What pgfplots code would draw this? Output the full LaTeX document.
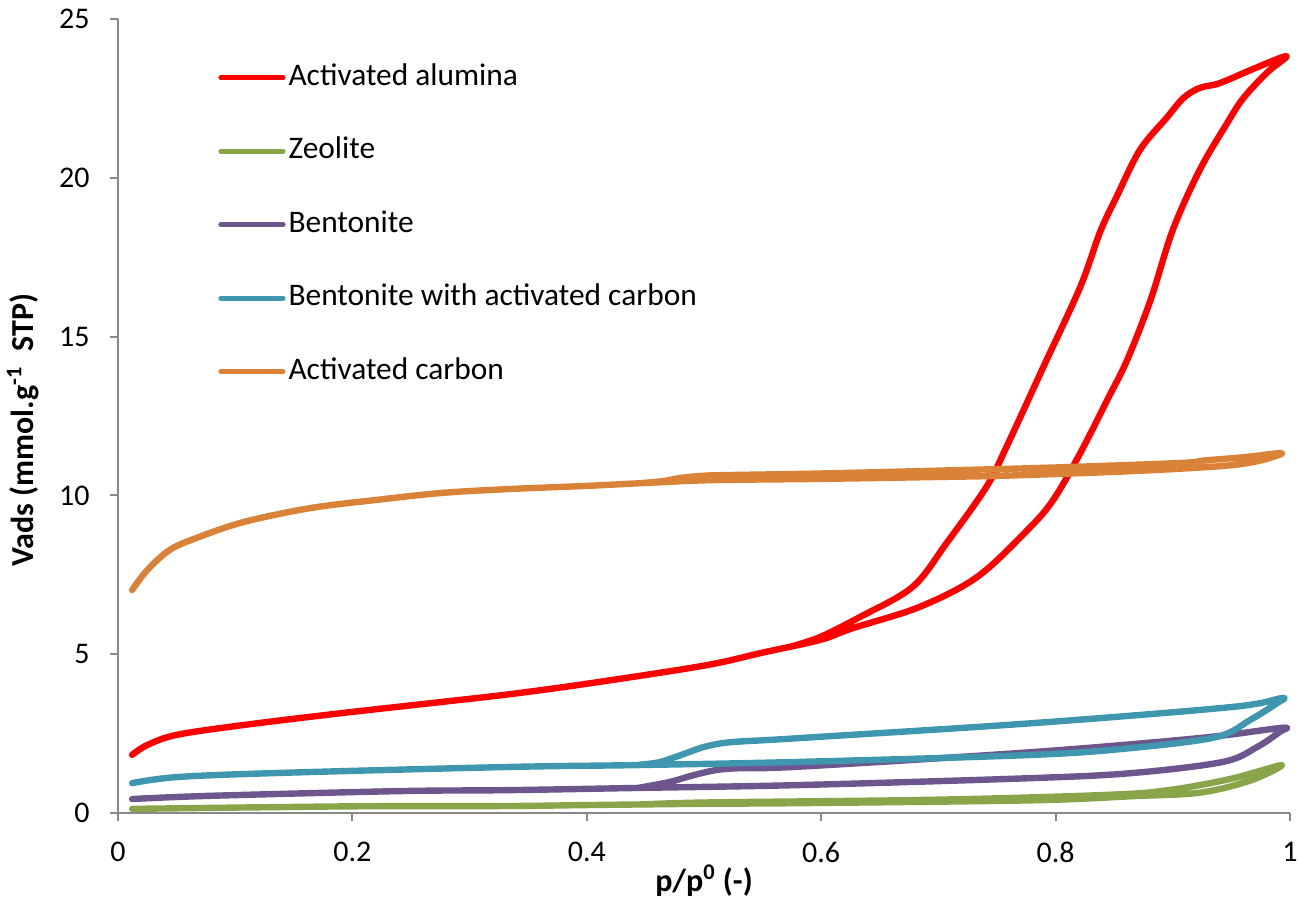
\documentclass[border=0pt]{standalone}
\usepackage{fontspec}
\setmainfont{Carlito}
\usepackage{pgfplots}
\pgfplotsset{compat=1.18}
\definecolor{alured}{HTML}{FF0000}
\definecolor{zeogreen}{HTML}{88A54A}
\definecolor{bentpurple}{HTML}{6E558E}
\definecolor{bacteal}{HTML}{3E97AF}
\definecolor{acorange}{HTML}{DB8239}
\definecolor{axgray}{HTML}{888888}

\begin{document}
\begin{tikzpicture}
\begin{axis}[
  scale only axis, width=586bp, height=397bp,
  xmin=0, xmax=1, ymin=0, ymax=25,
  axis x line*=bottom, axis y line*=left,
  axis line style={draw=axgray, line width=1bp, -},
  tick style={draw=axgray, line width=1bp},
  tick align=outside, major tick length=4bp,
  xtick={0,0.2,0.4,0.6,0.8,1}, ytick={0,5,10,15,20,25},
  xticklabels={0,0.2,0.4,0.6,0.8,1},
  /pgf/number format/assume math mode=true,
  tick label style={font=\fontsize{15bp}{18bp}\selectfont, inner sep=0pt},
  xticklabel style={yshift=-10.5bp},
  yticklabel style={xshift=-10bp},
  xlabel={\textbf{p/p\textsuperscript{0} (-)}},
  ylabel={\textbf{Vads (mmol.g\textsuperscript{-1}\ \ STP)}},
  label style={font=\fontsize{16bp}{19bp}\selectfont, inner sep=0pt},
  xlabel style={at={(axis description cs:0.5,0)}, anchor=north, yshift=-25.5bp},
  ylabel style={at={(axis description cs:-0.081,0.482)}, anchor=center},
  every axis plot/.append style={line width=3.2bp, line join=round, line cap=round, smooth, tension=0.55},
  legend image code/.code={\draw[#1, line width=2.6bp] (0bp,0bp) -- (31bp,0bp);},
  legend cell align=left,
  legend style={at={(0.0853,0.946)}, anchor=north west, draw=none, fill=none,
    inner sep=0pt, row sep=21.35bp, font=\fontsize{15.7bp}{19bp}\selectfont,
    nodes={inner sep=0pt, text height=11.4bp, text depth=4bp},
    /tikz/every odd column/.append style={column sep=1.5bp}},
]
\coordinate (sw) at (rel axis cs:0,0);
\coordinate (ne) at (rel axis cs:1,1);

% activated alumina: adsorption then desorption
\addplot[alured] coordinates {
(0.012,1.83)(0.025,2.14)(0.05,2.46)(0.107,2.77)(0.192,3.15)(0.277,3.50)(0.334,3.74)
(0.4,4.07)(0.5,4.64)(0.55,5.05)(0.599,5.45)(0.627,5.82)(0.684,6.49)(0.733,7.43)
(0.776,8.91)(0.798,9.86)(0.821,11.33)(0.844,13.0)(0.861,14.26)(0.881,16.15)
(0.900,18.36)(0.923,20.25)(0.946,21.7)(0.960,22.5)(0.980,23.3)(0.997,23.83)
(0.970,23.45)(0.940,22.98)(0.923,22.83)(0.909,22.51)(0.895,21.9)(0.872,20.88)
(0.852,19.4)(0.838,18.3)(0.821,16.56)(0.79,14.08)(0.758,11.52)
(0.741,10.27)(0.707,8.5)(0.678,7.12)(0.633,6.17)(0.599,5.54)(0.575,5.25)};
\addlegendentry{Activated alumina}

% zeolite
\addplot[zeogreen] coordinates {
(0.012,0.13)(0.2,0.21)(0.334,0.22)(0.4,0.25)(0.5,0.29)(0.582,0.31)(0.781,0.40)
(0.866,0.53)(0.923,0.64)(0.966,1.02)(0.993,1.51)
(0.95,1.08)(0.9,0.74)(0.85,0.58)(0.7,0.42)(0.5,0.33)(0.45,0.27)};
\addlegendentry{Zeolite}

% bentonite
\addplot[bentpurple] coordinates {
(0.012,0.44)(0.078,0.54)(0.241,0.69)(0.334,0.72)(0.445,0.79)(0.582,0.88)(0.781,1.10)
(0.866,1.26)(0.943,1.61)(0.972,2.08)(0.991,2.55)(0.993,2.68)
(0.923,2.36)(0.781,1.92)(0.582,1.46)(0.53,1.41)(0.51,1.35)(0.49,1.18)(0.47,0.97)(0.445,0.80)};
\addlegendentry{Bentonite}

% bentonite with activated carbon
\addplot[bacteal] coordinates {
(0.012,0.94)(0.05,1.13)(0.136,1.26)(0.334,1.45)(0.445,1.51)(0.582,1.61)(0.781,1.83)
(0.866,2.05)(0.937,2.39)(0.966,2.93)(0.989,3.46)(0.993,3.62)
(0.951,3.34)(0.781,2.83)(0.582,2.36)(0.55,2.29)(0.52,2.22)(0.50,2.08)(0.48,1.82)(0.462,1.60)(0.445,1.52)};
\addlegendentry{Bentonite with activated carbon}

% activated carbon
\addplot[acorange] coordinates {
(0.012,7.02)(0.025,7.65)(0.044,8.28)(0.067,8.66)(0.107,9.16)(0.164,9.6)(0.221,9.86)
(0.277,10.08)(0.334,10.2)(0.4,10.3)(0.455,10.4)(0.507,10.48)(0.6,10.52)(0.7,10.58)
(0.756,10.62)(0.85,10.74)(0.906,10.84)(0.95,10.95)(0.975,11.1)(0.993,11.33)
(0.96,11.2)(0.927,11.1)(0.906,11.02)(0.8,10.88)(0.7,10.78)(0.6,10.69)(0.52,10.64)
(0.5,10.62)(0.48,10.55)(0.465,10.45)(0.45,10.4)};
\addlegendentry{Activated carbon}
\end{axis}
\pgfresetboundingbox
\path[use as bounding box] ([xshift=-59bp,yshift=-43bp]sw) rectangle ([xshift=4bp,yshift=9.5bp]ne);
\end{tikzpicture}
\end{document}
